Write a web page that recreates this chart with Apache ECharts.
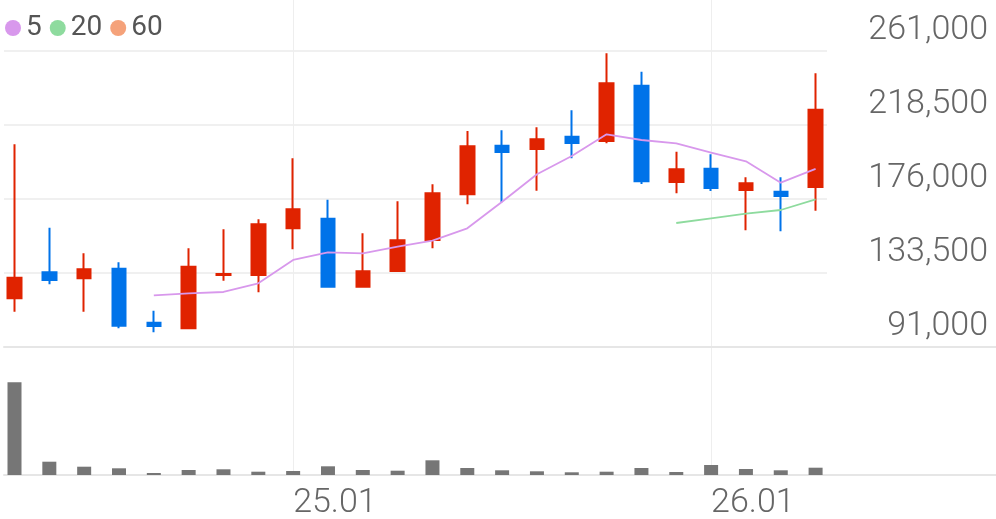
<!DOCTYPE html>
<html>
<head>
<meta charset="utf-8">
<script src="https://cdn.jsdelivr.net/npm/echarts@6/dist/echarts.min.js"></script>
<style>
  html, body { margin: 0; padding: 0; background: #fff; }
  #chart { width: 996px; height: 519px; }
</style>
</head>
<body>
<div id="chart"></div>
<script>
// Monthly categories
const months = ['24.05','24.06','24.07','24.08','24.09','24.10','24.11','24.12',
  '25.01','25.02','25.03','25.04','25.05','25.06','25.07','25.08','25.09','25.10','25.11','25.12',
  '26.01','26.02','26.03','26.04'];

const opens  = [118970,133900,130460,135980,104960,101750,132300,132360,159180,164690,125640,134650,
                152460,178700,206610,204720,211780,209310,241070,185770,193400,181170,180200,182900];
const closes = [130800,129490,135630,103240,103070,137120,132900,161470,170090,125640,134480,152290,
                179280,206270,202990,210290,208160,242450,186170,193060,182320,185020,177730,227290];
const lows   = [111280,127000,111280,101750, 99450,101500,129080,122420,147120,125400,125400,134400,
                147690,172960,174110,180770,199380,207990,184620,179280,180600,158030,157450,169280];
const highs  = [207400,159520,144820,139650,111850,147690,158600,164350,199380,175600,156300,174680,
                184450,215060,215460,217180,226940,259680,249110,203170,201680,188470,188470,248190];

// Moving averages (null where not drawn)
const ma5  = [null,null,null,null,120700,121850,122590,127590,140970,145390,144820,148610,
              152050,159180,174450,190190,200700,213160,209890,207990,202590,197650,185370,193350];
const ma20 = [null,null,null,null,null,null,null,null,null,null,null,null,
              null,null,null,null,null,null,null,162220,164920,167560,169690,175830];
const ma60 = [];

const volumes = [927000,133000,83000,67000,20000,50000,57000,33000,40000,87000,50000,43000,
                 147000,70000,47000,37000,27000,33000,70000,30000,100000,60000,47000,73000];

const yTicks = { min: 91000, max: 261000, interval: 42500 };
const legendNames = ['5','20','60'];

const UP = '#e02300', DOWN = '#0073e9';
const C5 = '#d898ec', C20 = '#8edb9e', C60 = '#f5a27a';

const idx = months.map((m, i) => i);
const candleData = idx.map(i => [i, opens[i], closes[i], lows[i], highs[i]]);
const toPts = arr => idx.map(i => [i, arr[i]]);

// x geometry: candle i centre at 14.5 + 34.83*i; axis spans -4 .. 32
const X_LEFT = 14.5 - 4 * 34.83;
const X_WIDTH = 36 * 34.83;

const chart = echarts.init(document.getElementById('chart'), null, { renderer: 'canvas' });

const fmt = v => Math.round(v).toString().replace(/\B(?=(\d{3})+(?!\d))/g, ',');

const G = { outerBoundsMode: 'none', containLabel: false };

chart.setOption({
  animation: false,
  backgroundColor: '#fff',
  textStyle: { fontFamily: 'Roboto' },
  legend: {
    left: 0, top: 9,
    icon: 'circle', itemWidth: 16, itemHeight: 16, itemGap: 8,
    textStyle: { fontSize: 28, color: '#555', fontFamily: 'Roboto' },
    data: legendNames
  },
  grid: [
    Object.assign({ left: X_LEFT, width: X_WIDTH, top: 0, height: 475 }, G),      // 0 vertical lines + labels
    Object.assign({ left: X_LEFT, width: X_WIDTH, top: 51, height: 296 }, G),     // 1 candles
    Object.assign({ left: 4, width: 823, top: 51, height: 296 }, G),              // 2 price split lines + labels
    Object.assign({ left: 4, right: 0, top: 347, height: 128 }, G),               // 3 full-width axis lines
    Object.assign({ left: X_LEFT, width: X_WIDTH, top: 375, height: 100 }, G)     // 4 volume
  ],
  xAxis: [
    { gridIndex: 0, type: 'value', min: -4, max: 32, interval: 12,
      axisLine: { show: false }, axisTick: { show: false },
      splitLine: { show: true, lineStyle: { color: '#eeeeee', width: 1 } },
      axisLabel: { show: true, align: 'left', margin: 11, fontSize: 34, fontWeight: 300,
        color: '#666', fontFamily: 'Roboto',
        formatter: v => (months[v] !== undefined ? months[v] : '') } },
    { gridIndex: 1, type: 'value', min: -4, max: 32, show: false },
    { gridIndex: 2, type: 'value', min: 0, max: 1, show: false },
    { gridIndex: 3, type: 'value', min: 0, max: 1, position: 'top',
      axisLine: { show: true, onZero: false, lineStyle: { color: '#e6e6e6', width: 2 } },
      axisTick: { show: false }, axisLabel: { show: false }, splitLine: { show: false } },
    { gridIndex: 3, type: 'value', min: 0, max: 1, position: 'bottom',
      axisLine: { show: true, onZero: false, lineStyle: { color: '#e6e6e6', width: 2 } },
      axisTick: { show: false }, axisLabel: { show: false }, splitLine: { show: false } },
    { gridIndex: 4, type: 'value', min: -4, max: 32, show: false }
  ],
  yAxis: [
    { gridIndex: 0, type: 'value', min: 0, max: 1, show: false },
    { gridIndex: 1, type: 'value', min: yTicks.min, max: yTicks.max, show: false },
    { gridIndex: 2, type: 'value', position: 'right', min: yTicks.min, max: yTicks.max, interval: yTicks.interval,
      axisLine: { show: false }, axisTick: { show: false },
      splitLine: { show: true, lineStyle: { color: '#f0f0f0', width: 2 } },
      axisLabel: { show: true, align: 'right', margin: 161, fontSize: 34, fontWeight: 300,
        color: '#666', fontFamily: 'Roboto', verticalAlign: 'bottom', lineHeight: 42,
        formatter: v => fmt(v) } },
    { gridIndex: 3, type: 'value', min: 0, max: 1, show: false },
    { gridIndex: 4, type: 'value', min: 0, max: 1000000, show: false }
  ],
  series: [
    { name: '5', type: 'line', xAxisIndex: 1, yAxisIndex: 1, data: toPts(ma5),
      showSymbol: false, symbol: 'none', connectNulls: false,
      lineStyle: { color: C5, width: 1.8 }, itemStyle: { color: C5 } },
    { name: '20', type: 'line', xAxisIndex: 1, yAxisIndex: 1, data: toPts(ma20),
      showSymbol: false, symbol: 'none',
      lineStyle: { color: C20, width: 1.8 }, itemStyle: { color: C20 } },
    { name: '60', type: 'line', xAxisIndex: 1, yAxisIndex: 1, data: ma60,
      showSymbol: false, symbol: 'none',
      lineStyle: { color: C60, width: 1.8 }, itemStyle: { color: C60 } },
    { name: 'price', type: 'candlestick', xAxisIndex: 1, yAxisIndex: 1, data: candleData,
      barWidth: 14,
      itemStyle: { color: UP, color0: DOWN, borderColor: UP, borderColor0: DOWN, borderWidth: 2 } },
    { name: 'volume', type: 'bar', xAxisIndex: 5, yAxisIndex: 4,
      data: idx.map(i => [i, volumes[i]]), barWidth: 14,
      itemStyle: { color: '#767676' } }
  ]
});
</script>
</body>
</html>
